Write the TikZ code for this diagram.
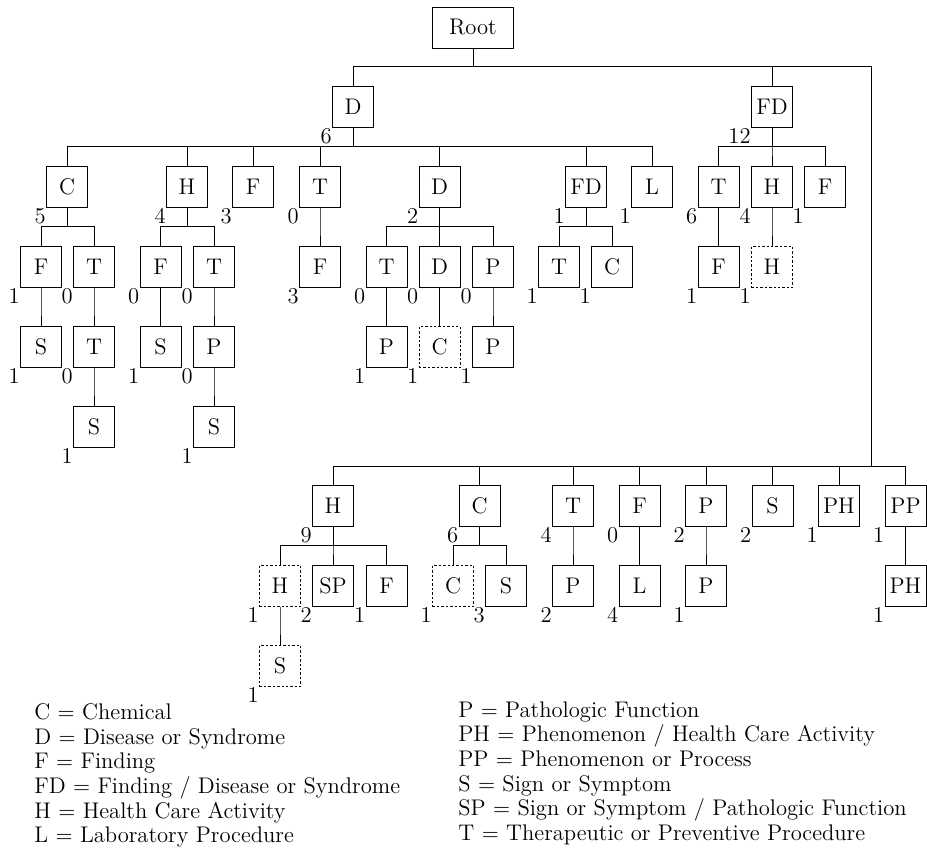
\documentclass[tikz,border=0pt]{standalone}
\usetikzlibrary{calc}

\tikzset{
  every node/.style={font=\fontsize{11.3}{13.5}\selectfont},
  box/.style={draw, line width=0.5pt, minimum size=20.5pt, inner sep=0pt},
  ghost/.style={box, dash pattern=on 1.2pt off 1pt},
  cnt/.style={anchor=north east, inner sep=0pt},
  key/.style={anchor=base west, inner sep=0pt},
}
% box with its count under the left corner
\newcommand{\bx}[6][box]{%
  \node[#1] (#2) at (#3,#4) {#5};
  \node[cnt] (#2n) at (#2.south west) {#6};}
% parent -> child, bus 20 units above the child
\newcommand{\tlink}[2]{\draw[line width=0.5pt] (#1.south) |- ($(#2.north)+(0,-20)$) -- (#2.north);}

\begin{document}
\begin{tikzpicture}[x=0.5pt, y=-0.5pt]
\useasboundingbox (0,0) rectangle (927,857);
% root and first level
\node[box, minimum width=40.5pt] (root) at (473,27.5) {Root};
\bx{d}{353}{107}{D}{6}
\bx{fd}{772}{107}{FD}{12}
% second level
\bx{dc}{67}{187}{C}{5}
\bx{dh}{187}{187}{H}{4}
\bx{df}{253}{187}{F}{3}
\bx{dt}{320}{187}{T}{0}
\bx{dd}{439.5}{187}{D}{2}
\bx{dfd}{586}{187}{FD}{1}
\bx{dl}{652}{187}{L}{1}
\bx{fdt}{718.5}{187}{T}{6}
\bx{fdh}{772}{187}{H}{4}
\bx{fdf}{825}{187}{F}{1}
% third level
\bx{dcf}{41}{267}{F}{1}
\bx{dct}{94}{267}{T}{0}
\bx{dhf}{160.5}{267}{F}{0}
\bx{dht}{214}{267}{T}{0}
\bx{dtf}{320}{267}{F}{3}
\bx{ddt}{386.5}{267}{T}{0}
\bx{ddd}{439.5}{267}{D}{0}
\bx{ddp}{493}{267}{P}{0}
\bx{dfdt}{559}{267}{T}{1}
\bx{dfdc}{612}{267}{C}{1}
\bx{fdtf}{718.5}{267}{F}{1}
\bx[ghost]{fdhh}{772}{267}{H}{1}
% fourth and fifth level
\bx{dcfs}{41}{347}{S}{1}
\bx{dctt}{94}{347}{T}{0}
\bx{dhfs}{160.5}{347}{S}{1}
\bx{dhtp}{214}{347}{P}{0}
\bx{ddtp}{386.5}{347}{P}{1}
\bx[ghost]{dddc}{439.5}{347}{C}{1}
\bx{ddpp}{493}{347}{P}{1}
\bx{dctts}{94}{427}{S}{1}
\bx{dhtps}{214}{427}{S}{1}
% lower group, hung from the root
\coordinate (jn) at (871,466);
\bx{rh}{333}{506}{H}{9}
\bx{rc}{479.5}{506}{C}{6}
\bx{rt}{573}{506}{T}{4}
\bx{rf}{639.5}{506}{F}{0}
\bx{rp}{706}{506}{P}{2}
\bx{rs}{772.5}{506}{S}{2}
\bx{rph}{839}{506}{PH}{1}
\bx{rpp}{905.5}{506}{PP}{1}
\bx[ghost]{rhh}{280}{586}{H}{1}
\bx{rhsp}{333}{586}{SP}{2}
\bx{rhf}{386.5}{586}{F}{1}
\bx[ghost]{rcc}{453}{586}{C}{1}
\bx{rcs}{506}{586}{S}{3}
\bx{rtp}{573}{586}{P}{2}
\bx{rfl}{639.5}{586}{L}{4}
\bx{rp2}{706}{586}{P}{1}
\bx{rpp2}{905.5}{586}{PH}{1}
\bx[ghost]{rhhs}{280}{666}{S}{1}
% connectors
\foreach \a/\b in {root/d, root/fd, d/dc, d/dh, d/df, d/dt, d/dd, d/dfd, d/dl,
    fd/fdt, fd/fdh, fd/fdf, dc/dcf, dc/dct, dh/dhf, dh/dht, dt/dtf,
    dd/ddt, dd/ddd, dd/ddp, dfd/dfdt, dfd/dfdc, fdt/fdtf, fdh/fdhh,
    dcf/dcfs, dct/dctt, dhf/dhfs, dht/dhtp, ddt/ddtp, ddd/dddc, ddp/ddpp,
    dctt/dctts, dhtp/dhtps, rh/rhh, rh/rhsp, rh/rhf, rc/rcc, rc/rcs,
    rt/rtp, rf/rfl, rp/rp2, rpp/rpp2, rhh/rhhs}
  \tlink{\a}{\b};
\draw[line width=0.5pt] (root.south) |- ($(jn |- d.north)+(0,-20)$) -- (jn);
\foreach \b in {rh, rc, rt, rf, rp, rs, rph, rpp}
  \draw[line width=0.5pt] (jn) -| (\b.north);
% key
\foreach \k/\t [count=\i] in {C/Chemical, D/Disease or Syndrome, F/Finding,
    FD/{Finding / Disease or Syndrome}, H/Health Care Activity, L/Laboratory Procedure}
  \node[key] (keyl\i) at (34,{694.6+24.7*\i}) {\k{} $=$ \t};
\foreach \k/\t [count=\i] in {P/Pathologic Function, PH/{Phenomenon / Health Care Activity},
    PP/Phenomenon or Process, S/Sign or Symptom,
    SP/{Sign or Symptom / Pathologic Function}, T/Therapeutic or Preventive Procedure}
  \node[key] (keyr\i) at (458,{692.3+24.7*\i}) {\k{} $=$ \t};
\end{tikzpicture}
\end{document}
